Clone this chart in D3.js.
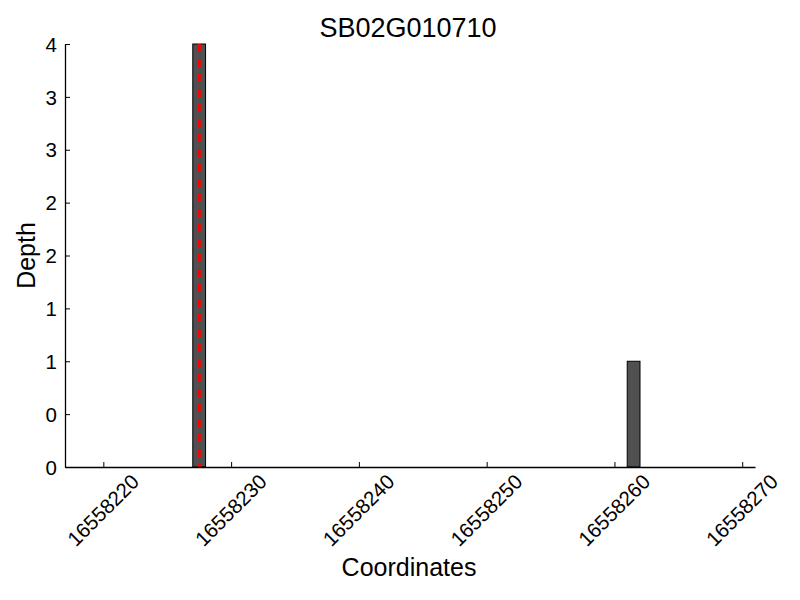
<!DOCTYPE html>
<html>
<head>
<meta charset="utf-8">
<script src="https://cdn.jsdelivr.net/npm/d3@7"></script>
<style>
  body { margin: 0; background: #fff; }
  svg { display: block; font-family: "Liberation Sans", Arial, Helvetica, sans-serif; }
</style>
</head>
<body>
<svg id="chart" width="800" height="600"></svg>
<script>
const title = "SB02G010710";
const xLabel = "Coordinates";
const yLabel = "Depth";
const positions = [16558227, 16558261];
const depths = [4, 1];
const markerPositions = [16558227.5];
const xDomain = [16558217, 16558271];
const yDomain = [0, 4];
const xTickValues = [16558220, 16558230, 16558240, 16558250, 16558260, 16558270];
const yTickValues = [0, 0.5, 1, 1.5, 2, 2.5, 3, 3.5, 4];
const yTickLabels = ["0", "0", "1", "1", "2", "2", "3", "3", "4"];

(function () {
const svg = d3.select("#chart");
const mLeft = 65, mRight = 755, mTop = 44, mBottom = 467;
const x = d3.scaleLinear().domain(xDomain).range([mLeft, mRight]);
const y = d3.scaleLinear().domain(yDomain).range([mBottom, mTop]);

// bars
svg.append("g").selectAll("rect")
  .data(positions.map((p, i) => ({ p, v: depths[i] })))
  .join("rect")
  .attr("x", d => x(d.p))
  .attr("width", d => x(d.p + 1) - x(d.p))
  .attr("y", d => y(d.v))
  .attr("height", d => y(0) - y(d.v))
  .attr("fill", "#505050")
  .attr("stroke", "#000")
  .attr("stroke-width", 1);

// red dashed marker
svg.append("g").selectAll("line")
  .data(markerPositions)
  .join("line")
  .attr("x1", d => x(d)).attr("x2", d => x(d))
  .attr("y1", y(yDomain[1])).attr("y2", y(yDomain[0]))
  .attr("stroke", "#ff0000")
  .attr("stroke-width", 3)
  .attr("stroke-dasharray", "8,7");

// x axis
const xAxis = d3.axisBottom(x)
  .tickValues(xTickValues)
  .tickSizeInner(-5)
  .tickSizeOuter(0)
  .tickFormat("");
const gx = svg.append("g").attr("transform", `translate(0,${mBottom})`).call(xAxis);
gx.select(".domain").attr("stroke", "#000").attr("stroke-width", 1.3);
gx.selectAll(".tick line").attr("stroke", "#000").attr("stroke-width", 1);
gx.selectAll(".tick").append("text")
  .attr("fill", "#000")
  .attr("font-size", "20.5px")
  .attr("font-family", "Liberation Sans, Arial, sans-serif")
  .attr("text-anchor", "middle")
  .attr("dominant-baseline", "central")
  .attr("transform", "translate(-1,43) rotate(-45)")
  .text(d => String(d));

// y axis
const yAxis = d3.axisLeft(y)
  .tickValues(yTickValues)
  .tickSizeInner(-5)
  .tickSizeOuter(0)
  .tickFormat((d, i) => yTickLabels[i]);
const gy = svg.append("g").attr("transform", `translate(${mLeft},0)`).call(yAxis);
gy.select(".domain").attr("stroke", "#000").attr("stroke-width", 1.3);
gy.selectAll(".tick line").attr("stroke", "#000").attr("stroke-width", 1);
gy.selectAll(".tick text")
  .attr("fill", "#000")
  .attr("font-size", "20.5px")
  .attr("x", -8)
  .attr("dy", "0.35em")
  .attr("font-family", "Liberation Sans, Arial, sans-serif");

// title & labels
svg.append("text")
  .attr("x", 408).attr("y", 37)
  .attr("text-anchor", "middle")
  .attr("font-size", "27px")
  .attr("fill", "#000")
  .text(title);

svg.append("text")
  .attr("x", 409).attr("y", 576)
  .attr("text-anchor", "middle")
  .attr("font-size", "25px")
  .attr("fill", "#000")
  .text(xLabel);

svg.append("text")
  .attr("transform", `translate(35,${(mTop + mBottom) / 2}) rotate(-90)`)
  .attr("text-anchor", "middle")
  .attr("font-size", "25px")
  .attr("fill", "#000")
  .text(yLabel);
})();
</script>
</body>
</html>
